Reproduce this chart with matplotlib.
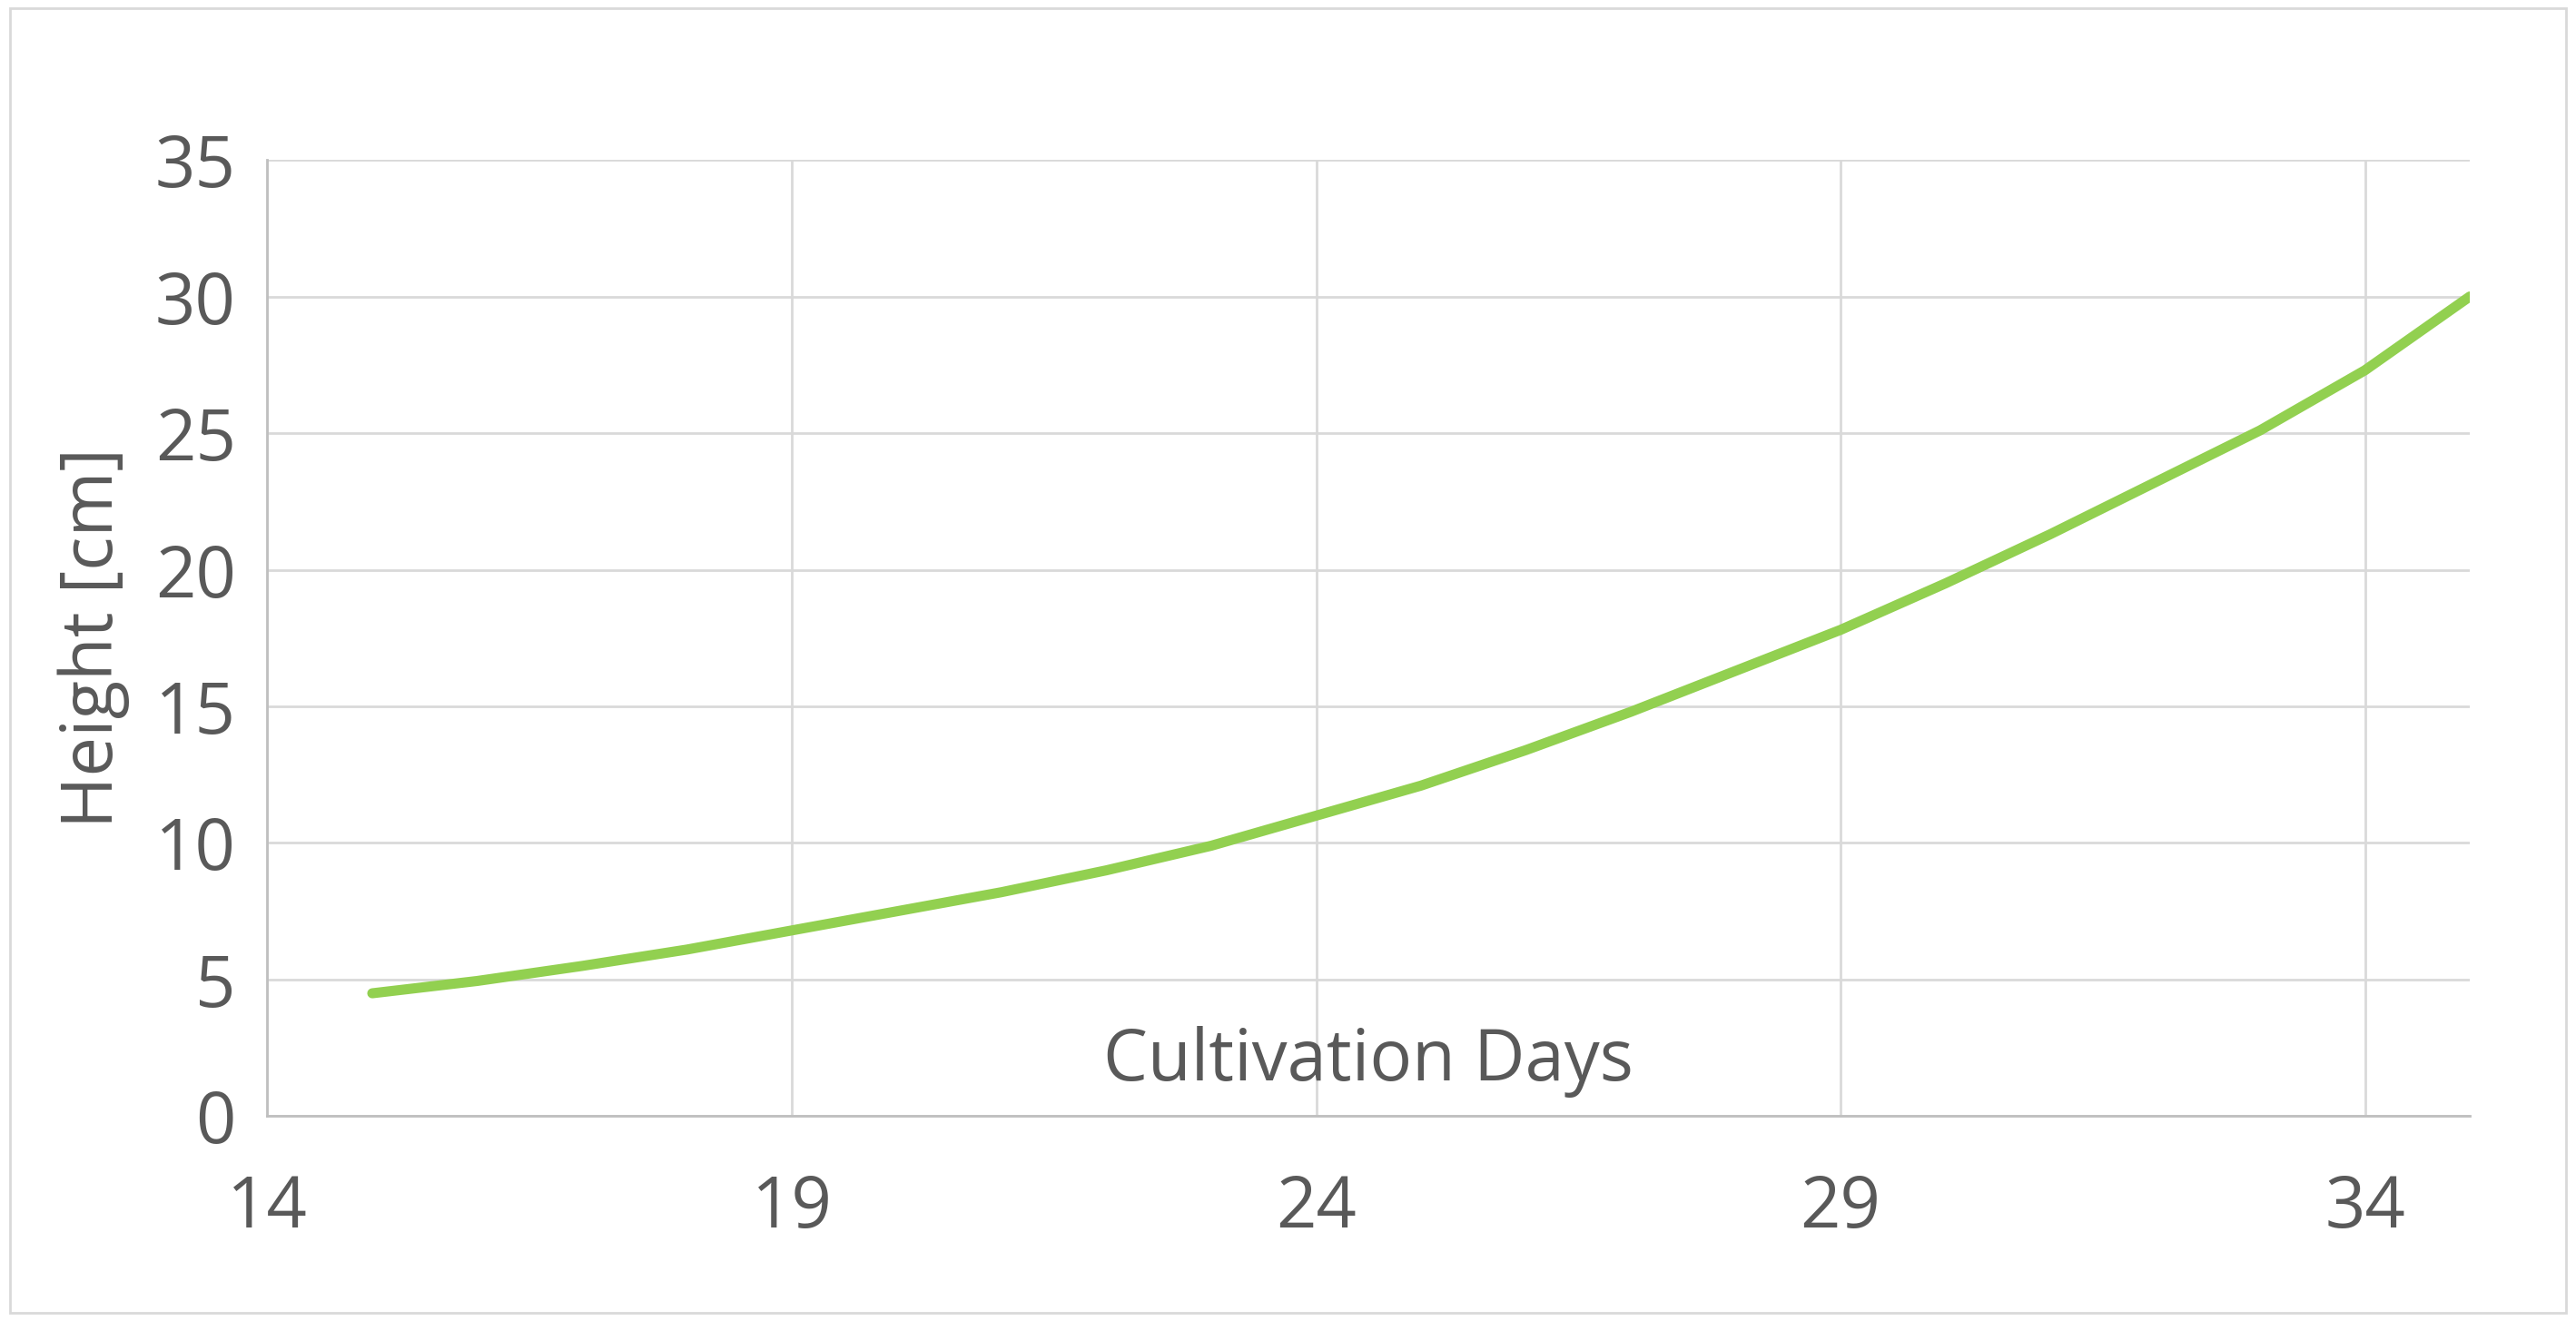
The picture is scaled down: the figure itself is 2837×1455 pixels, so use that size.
import matplotlib.pyplot as plt
from matplotlib.patches import Rectangle

# data
days = [15, 16, 17, 18, 19, 20, 21, 22, 23, 24, 25, 26, 27, 28, 29, 30, 31, 32, 33, 34, 35]
height = [4.5, 4.95, 5.5, 6.1, 6.8, 7.5, 8.2, 9.0, 9.9, 11.0, 12.1, 13.4, 14.8, 16.3, 17.8,
          19.5, 21.3, 23.2, 25.1, 27.3, 30.0]
x_ticks = [14, 19, 24, 29, 34]
y_ticks = [0, 5, 10, 15, 20, 25, 30, 35]

plt.rcParams['font.family'] = ['Open Sans', 'DejaVu Sans']
text_color = '#595959'
grid_color = '#d9d9d9'

fig = plt.figure(figsize=(28.37, 14.55), dpi=100)
ax = fig.add_axes([0.1038, 0.155, 0.855, 0.724])
fig.patches.append(Rectangle((0.004, 0.006), 0.992, 0.988, transform=fig.transFigure,
                             fill=False, edgecolor=grid_color, linewidth=2))

ax.plot(days, height, color='#92d050', linewidth=8, solid_capstyle='round')

ax.set_xlim(14, 35)
ax.set_ylim(0, 35)
ax.set_xticks(x_ticks)
ax.set_yticks(y_ticks)
ax.grid(True, color=grid_color, linewidth=2)
ax.set_axisbelow(True)
for s in ['top', 'right']:
    ax.spines[s].set_visible(False)
for s in ['left', 'bottom']:
    ax.spines[s].set_color('#bfbfbf')
    ax.spines[s].set_linewidth(2)
ax.tick_params(axis='both', length=0, labelsize=56, colors=text_color)
ax.tick_params(axis='x', pad=45)
ax.tick_params(axis='y', pad=25)

ax.text(24.5, 2.0, 'Cultivation Days', ha='center', va='center', fontsize=56, color=text_color)
ax.set_ylabel('Height [cm]', fontsize=56, color=text_color, labelpad=20)

fig.savefig('out.png', dpi=100)
